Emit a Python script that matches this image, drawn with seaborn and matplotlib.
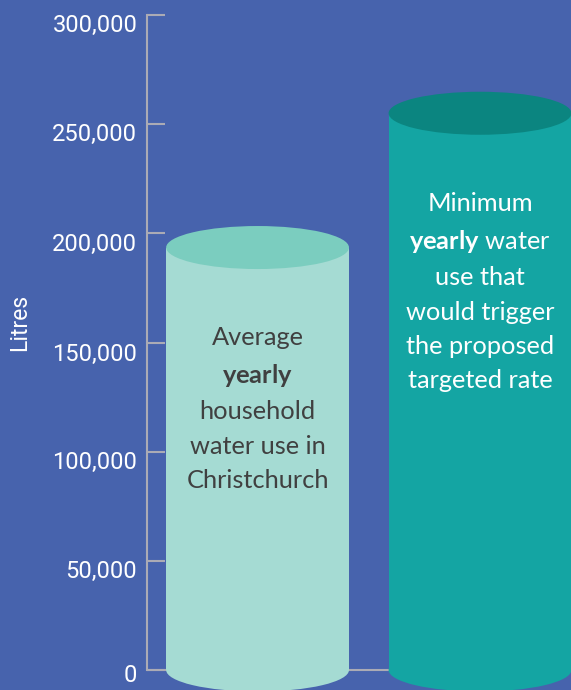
import matplotlib
matplotlib.use("Agg")
import matplotlib.pyplot as plt
from matplotlib.patches import Ellipse
from matplotlib.ticker import FuncFormatter
from matplotlib.transforms import ScaledTranslation
import seaborn as sns
import pandas as pd

# data
categories = ["Average household", "Targeted rate trigger"]
litres = [193500, 255000]
bar_labels = ["Average\n$\\mathbf{yearly}$\nhousehold\nwater use in\nChristchurch",
              "Minimum\n$\\mathbf{yearly}$ water\nuse that\nwould trigger\nthe proposed\ntargeted rate"]
label_heights = [119500, 173000]
yticks = [0, 50000, 100000, 150000, 200000, 250000, 300000]

bg = "#4763AD"
body_colors = ["#A5DBD3", "#14A5A3"]
top_colors = ["#7BCDBF", "#0B8580"]
text_colors = ["#404040", "white"]
axis_grey = "#ABABB5"

sns.set_style("white")
plt.rcParams["font.family"] = ["Roboto", "DejaVu Sans"]
plt.rcParams["mathtext.fontset"] = "custom"
plt.rcParams["mathtext.bf"] = "Lato:bold"

df = pd.DataFrame({"cat": categories, "litres": litres})

fig = plt.figure(figsize=(5.71, 6.90), dpi=100, facecolor=bg)
ax = fig.add_axes([147 / 571, 20 / 690, 1 - 147 / 571, 655 / 690])
ax.set_facecolor(bg)

bar_w = 0.822
sns.barplot(data=df, x="cat", y="litres", hue="cat", palette=body_colors,
            width=bar_w, saturation=1, legend=False, ax=ax, zorder=2,
            linewidth=0)

ax.set_xlim(-0.497, 1.409)
ax.set_ylim(0, 300000)

# cylinder ends
ell_h = 19700
for i, p in enumerate(ax.patches[:2]):
    cx = p.get_x() + p.get_width() / 2
    top = p.get_height()
    ax.add_patch(Ellipse((cx, 0), p.get_width(), ell_h, facecolor=body_colors[i],
                         edgecolor="none", zorder=2, clip_on=False))
    ax.add_patch(Ellipse((cx, top), p.get_width(), ell_h, facecolor=top_colors[i],
                         edgecolor="none", zorder=3, clip_on=False))
    ax.text(cx, label_heights[i], bar_labels[i], ha="center", va="center",
            color=text_colors[i], fontsize=18.3, family=["Lato", "DejaVu Sans"],
            linespacing=1.6, zorder=4)

# baseline running behind the cylinders
ax.plot([-0.497, 1 - bar_w / 2], [0, 0], color=axis_grey, lw=1.5,
        zorder=1, clip_on=False)

for s in ["top", "right", "bottom"]:
    ax.spines[s].set_visible(False)
ax.spines["left"].set_color(axis_grey)
ax.spines["left"].set_linewidth(1.5)

ax.set_yticks(yticks)
ax.yaxis.set_major_formatter(FuncFormatter(lambda v, _: f"{v:,.0f}"))
ax.tick_params(axis="y", left=True, direction="in", length=13, width=1.5,
               color=axis_grey, labelcolor="white", labelsize=17, pad=7)
# labels sit a little below their ticks in the original
drops = [3, 8, 8, 9, 9, 8, 8]
for lab, d in zip(ax.get_yticklabels(), drops):
    lab.set_transform(lab.get_transform() + ScaledTranslation(0, -d / 100, fig.dpi_scale_trans))
ax.set_xticks([])
ax.set_xlabel("")
ax.set_ylabel("")

fig.text(20 / 571, 1 - 322 / 690, "Litres", rotation=90, color="white",
         fontsize=16.5, ha="center", va="center")

fig.savefig("out.png", dpi=100, facecolor=bg)
